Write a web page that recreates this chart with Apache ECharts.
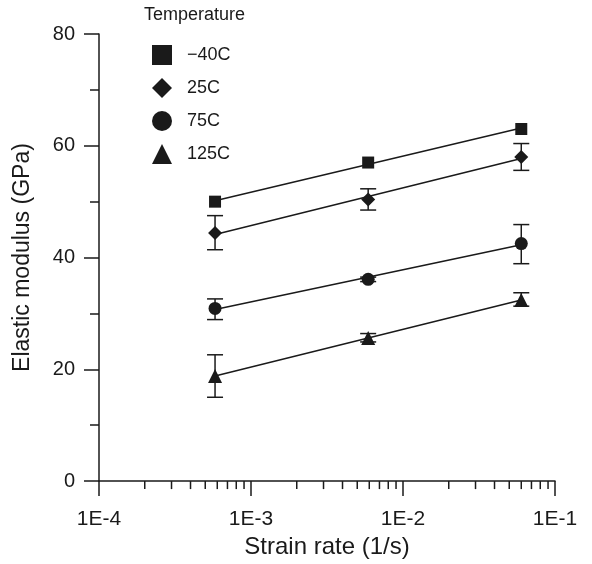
<!DOCTYPE html>
<html>
<head>
<meta charset="utf-8">
<script src="https://cdn.jsdelivr.net/npm/echarts@6/dist/echarts.min.js"></script>
<style>html,body{margin:0;padding:0;background:#fff}#c{width:592px;height:564px}</style>
</head>
<body>
<div id="c"></div>
<script>
// ---- data ----
const strainRate = [5.8e-4, 5.9e-3, 6.0e-2];
const seriesNames = ['\u221240C', '25C', '75C', '125C'];
const symbols = ['rect', 'diamond', 'circle', 'triangle'];
const modM40 = [50.0, 57.0, 63.0];
const mod25 = [44.4, 50.4, 58.0];
const mod75 = [30.9, 36.1, 42.5];
const mod125 = [18.8, 25.6, 32.4];
const hi25 = [47.5, 52.3, 60.4];
const lo25 = [41.4, 48.5, 55.6];
const hi75 = [32.6, 36.5, 45.9];
const lo75 = [28.9, 35.7, 38.9];
const hi125 = [22.6, 26.4, 33.7];
const lo125 = [15.0, 24.9, 31.3];
const xTickExps = [-4, -3, -2, -1];
const yTicks = [0, 20, 40, 60, 80];

const values = [modM40, mod25, mod75, mod125];
const errs = [null, [hi25, lo25], [hi75, lo75], [hi125, lo125]];

const FONT = 'Liberation Sans, Arial, sans-serif';
const INK = '#1a1a1a';

function fit(xs, ys) {
  const lx = xs.map(v => Math.log10(v));
  const n = lx.length;
  const mx = lx.reduce((a, b) => a + b, 0) / n;
  const my = ys.reduce((a, b) => a + b, 0) / n;
  let sxy = 0, sxx = 0;
  for (let i = 0; i < n; i++) { sxy += (lx[i] - mx) * (ys[i] - my); sxx += (lx[i] - mx) ** 2; }
  const b = sxy / sxx, a = my - b * mx;
  return [[xs[0], a + b * lx[0]], [xs[n - 1], a + b * lx[n - 1]]];
}

// minor tick positions on log axis
const minorTicks = [];
for (let e = -4; e < -1; e++) for (let k = 2; k <= 9; k++) minorTicks.push([k * Math.pow(10, e), 0]);

const series = [];
values.forEach((vals, i) => {
  series.push({
    name: 'fit' + i, type: 'line', data: fit(strainRate, vals), showSymbol: false, symbol: 'none',
    lineStyle: { color: INK, width: 1.5 }, z: 1, silent: true
  });
  if (errs[i]) {
    series.push({
      name: 'err' + i, type: 'custom', z: 2, silent: true,
      data: strainRate.map((x, j) => [x, errs[i][0][j], errs[i][1][j]]),
      encode: { x: 0, y: [1, 2] },
      renderItem: function (params, api) {
        const x = api.value(0);
        const p1 = api.coord([x, api.value(1)]);
        const p2 = api.coord([x, api.value(2)]);
        const w = 8;
        const st = { stroke: INK, lineWidth: 1.5 };
        return {
          type: 'group', children: [
            { type: 'line', shape: { x1: p1[0], y1: p1[1], x2: p2[0], y2: p2[1] }, style: st },
            { type: 'line', shape: { x1: p1[0] - w, y1: p1[1], x2: p1[0] + w, y2: p1[1] }, style: st },
            { type: 'line', shape: { x1: p2[0] - w, y1: p2[1], x2: p2[0] + w, y2: p2[1] }, style: st }
          ]
        };
      }
    });
  }
  series.push({
    name: seriesNames[i], type: 'scatter', symbol: symbols[i],
    symbolSize: [12, 14, 13, 14][i],
    data: strainRate.map((x, j) => [x, vals[j]]),
    itemStyle: { color: INK, opacity: 1 }, z: 3
  });
});

series.push({
  name: 'minorTicks', type: 'custom', silent: true, clip: false, z: 4,
  data: minorTicks, encode: { x: 0, y: 1 },
  renderItem: function (params, api) {
    const p = api.coord([api.value(0), api.value(1)]);
    return { type: 'line', shape: { x1: p[0], y1: p[1], x2: p[0], y2: p[1] + 8 }, style: { stroke: INK, lineWidth: 1.5 } };
  }
});

const chart = echarts.init(document.getElementById('c'), null, { renderer: 'canvas' });
chart.setOption({
  backgroundColor: '#fff',
  animation: false,
  textStyle: { fontFamily: FONT },
  title: {
    text: 'Temperature', left: 139, top: 1,
    textStyle: { fontFamily: FONT, fontSize: 18, fontWeight: 'normal', color: INK }
  },
  legend: {
    orient: 'vertical', left: 147, top: 40, itemWidth: 20, itemHeight: 20, itemGap: 13,
    data: seriesNames.map((n, i) => ({ name: n, icon: symbols[i] })),
    itemStyle: { color: INK },
    textStyle: { fontFamily: FONT, fontSize: 18, color: INK, padding: [0, 0, 0, 10] },
    selectedMode: false
  },
  grid: { left: 99, right: 37, top: 34, bottom: 82, containLabel: false },
  xAxis: {
    type: 'log', logBase: 10, min: Math.pow(10, xTickExps[0]), max: Math.pow(10, xTickExps[xTickExps.length - 1]),
    name: 'Strain rate (1/s)', nameLocation: 'middle', nameGap: 52,
    nameTextStyle: { fontFamily: FONT, fontSize: 24, color: INK },
    axisLine: { show: true, onZero: false, lineStyle: { color: INK, width: 1.5 } },
    axisTick: { show: true, inside: false, length: 15, lineStyle: { color: INK, width: 1.5 } },
    axisLabel: {
      margin: 28, fontFamily: FONT, fontSize: 21, color: INK,
      formatter: v => '1E' + Math.round(Math.log10(v))
    },
    splitLine: { show: false }
  },
  yAxis: {
    type: 'value', min: yTicks[0], max: yTicks[yTicks.length - 1], interval: 20,
    name: 'Elastic modulus (GPa)', nameLocation: 'middle', nameGap: 65, nameRotate: 90,
    nameTextStyle: { fontFamily: FONT, fontSize: 23, color: INK },
    axisLine: { show: true, lineStyle: { color: INK, width: 1.5 } },
    axisTick: { show: true, inside: false, length: 15, lineStyle: { color: INK, width: 1.5 } },
    minorTick: { show: true, splitNumber: 2, length: 9, lineStyle: { color: INK, width: 1.5 } },
    axisLabel: { margin: 24, fontFamily: FONT, fontSize: 20, color: INK },
    splitLine: { show: false }
  },
  series: series
});
</script>
</body>
</html>
